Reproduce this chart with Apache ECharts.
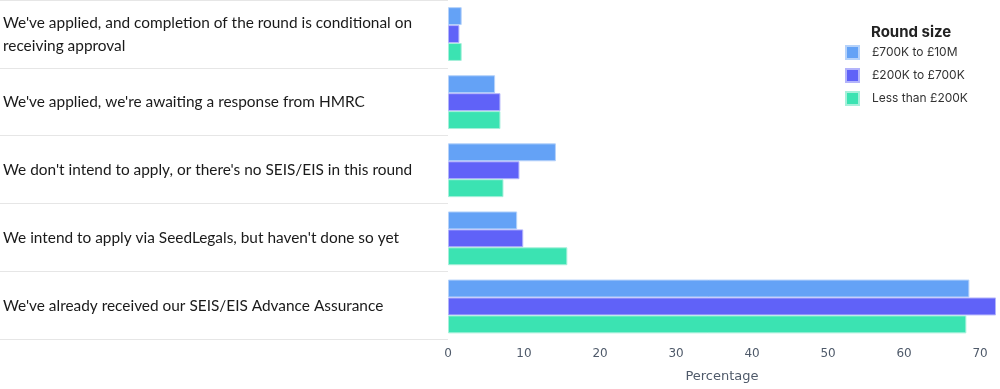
<!DOCTYPE html>
<html><head><meta charset="utf-8">
<script src="https://cdn.jsdelivr.net/npm/echarts@6/dist/echarts.min.js"></script>
<style>html,body{margin:0;padding:0;background:#fff}#c{width:1000px;height:389px}</style>
</head><body><div id="c"></div>
<script>
const categories = [
  "We've applied, and completion of the round is conditional on receiving approval",
  "We've applied, we're awaiting a response from HMRC",
  "We don't intend to apply, or there's no SEIS/EIS in this round",
  "We intend to apply via SeedLegals, but haven't done so yet",
  "We've already received our SEIS/EIS Advance Assurance"
];
const seriesNames = ["£700K to £10M", "£200K to £700K", "Less than £200K"];
const big = [1.8, 6.2, 14.2, 9.1, 68.6];
const mid = [1.5, 6.9, 9.4, 9.9, 72.1];
const small = [1.8, 6.9, 7.3, 15.7, 68.2];
const xTicks = [0, 10, 20, 30, 40, 50, 60, 70];

const colors = ['#64a2f6', '#6062f8', '#3be3b2'];
const borders = ['#b5d2fa', '#b3b4fb', '#a6f0da'];
const chart = echarts.init(document.getElementById('c'), null, {renderer: 'canvas'});
const vals = [big, mid, small];
chart.setOption({
  animation: false,
  title: {text: 'Round size', left: 866, top: 20,
    textStyle: {fontFamily: 'Inter', fontWeight: 'bold', fontSize: 15, color: '#222'}},
  legend: {
    orient: 'vertical', left: 840, top: 40, itemWidth: 13, itemHeight: 13, itemGap: 8,
    data: seriesNames,
    textStyle: {fontFamily: 'Inter', fontSize: 12, color: '#333', padding: [0, 0, 0, 8]},
    icon: 'rect'
  },
  grid: [
    {left: 448, right: 4, top: -4.5, bottom: 48.5},
    {left: 448, right: 4, top: 0, bottom: 50}
  ],
  xAxis: [{
    type: 'value', gridIndex: 0, min: 0, max: 'dataMax', interval: 10,
    name: 'Percentage', nameLocation: 'middle', nameGap: 30,
    nameTextStyle: {fontFamily: 'DejaVu Sans', fontSize: 13, color: '#4f5a6a'},
    axisLine: {show: false}, axisTick: {show: false}, splitLine: {show: false},
    axisLabel: {fontFamily: 'DejaVu Sans', fontSize: 12, color: '#4f5a6a', margin: 7,
      formatter: v => xTicks.includes(v) ? String(v) : ''}
  }, {
    type: 'value', gridIndex: 1, show: false, min: 0, max: 1
  }],
  yAxis: [{
    type: 'category', gridIndex: 0, inverse: true, data: categories,
    axisLine: {show: false}, axisTick: {show: false},
    axisLabel: {align: 'left', margin: 445, width: 425, overflow: 'break',
      fontFamily: 'Lato', fontSize: 15.4, color: '#1a1a1a', lineHeight: 23}
  }, {
    type: 'category', gridIndex: 1, inverse: true, data: categories,
    axisLine: {show: false}, axisLabel: {show: false},
    axisTick: {show: true, length: 448, lineStyle: {color: '#e6e6e6'}}
  }],
  series: seriesNames.map((n, i) => ({
    name: n, type: 'bar', data: vals[i], barGap: '0%', barCategoryGap: '21%',
    xAxisIndex: 0, yAxisIndex: 0,
    itemStyle: {color: colors[i], borderColor: borders[i], borderWidth: 1}
  }))
});
</script></body></html>
